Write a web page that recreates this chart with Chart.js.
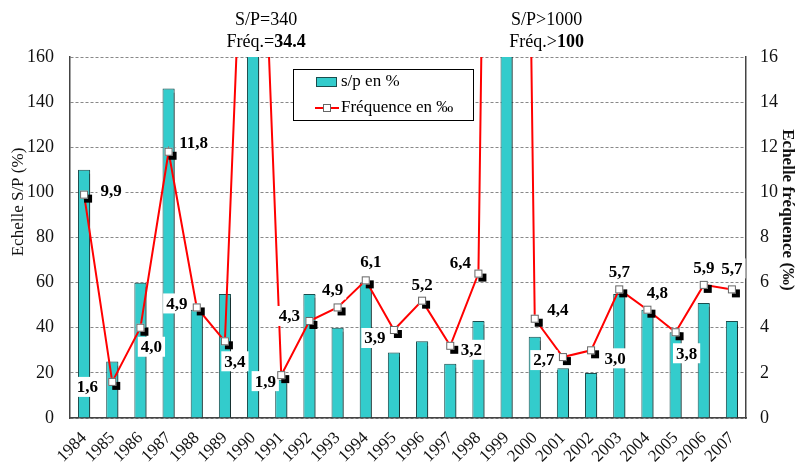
<!DOCTYPE html>
<html>
<head>
<meta charset="utf-8">
<script src="https://cdn.jsdelivr.net/npm/chart.js@4"></script>
<style>
  html, body { margin: 0; padding: 0; background: #fff; }
</style>
</head>
<body>
<canvas id="chart-sp" width="795" height="470"></canvas>
<script>
// données
const years = ['1984','1985','1986','1987','1988','1989','1990','1991','1992','1993','1994','1995',
  '1996','1997','1998','1999','2000','2001','2002','2003','2004','2005','2006','2007'];
const spValues = [110,25,60,146,48,55,340,17,55,40,60,29,34,24,43,1000,36,22,20,55,48,38,51,43];
const freqValues = [9.9,1.6,4.0,11.8,4.9,3.4,34.4,1.9,4.3,4.9,6.1,3.9,5.2,3.2,6.4,100,4.4,2.7,3.0,5.7,4.8,3.8,5.9,5.7];
const spTicks = [0,20,40,60,80,100,120,140,160];
const freqTicks = [0,2,4,6,8,10,12,14,16];

// placement des étiquettes (dx, dy en px par rapport au point)
const labelOffsets = [[27,-4],[-25,5],[11,19],[25,-9],[-20,-4],[10,20],null,[-16,6],[-20,-5],[-5,-18],[5,-19],[-19,8],
  [0,-16],[21,4],[-18,-11],null,[23,-9],[-19,3],[24,8],[0,-18],[10,-17],[11,21],[0,-17],[0,-21]];

const serif = 'Liberation Serif, Times New Roman, serif';
const teal = '#33CCCC';

const extraPlugin = {
  id: 'extras',
  beforeDatasetDraw(chart, args) {
    if (args.index === 1) {
      const ctx = chart.ctx;
      ctx.save();
      ctx.shadowColor = 'rgba(0,0,0,0.45)';
      ctx.shadowOffsetX = 2;
      ctx.shadowOffsetY = 1;
      ctx.shadowBlur = 1;
    }
  },
  afterDatasetDraw(chart, args) {
    if (args.index === 1) chart.ctx.restore();
  },
  afterDatasetsDraw(chart) {
    const ctx = chart.ctx;
    const area = chart.chartArea;
    const pts = chart.getDatasetMeta(0).data;
    // étiquettes
    ctx.save();
    ctx.font = 'bold 17px ' + serif;
    ctx.textAlign = 'center';
    ctx.textBaseline = 'middle';
    pts.forEach((p, i) => {
      const off = labelOffsets[i];
      if (!off || p.y < area.top) return;
      const txt = freqValues[i].toFixed(1).replace('.', ',');
      const w = ctx.measureText(txt).width;
      const cx = p.x + off[0], cy = p.y + off[1];
      ctx.fillStyle = '#fff';
      ctx.fillRect(cx - w / 2 - 3, cy - 10, w + 6, 20);
      ctx.fillStyle = '#000';
      ctx.fillText(txt, cx, cy + 1);
    });
    // marqueurs
    pts.forEach(p => {
      if (p.y < area.top) return;
      ctx.fillStyle = '#000';
      ctx.fillRect(p.x, p.y, 8, 8);
      ctx.fillStyle = '#fff';
      ctx.strokeStyle = '#666';
      ctx.lineWidth = 1;
      ctx.fillRect(p.x - 4, p.y - 4, 8, 8);
      ctx.strokeRect(p.x - 4 + 0.5, p.y - 4 + 0.5, 7, 7);
    });
    ctx.restore();
  },
  afterDraw(chart) {
    const ctx = chart.ctx;
    const x = chart.scales.x;
    ctx.save();
    ctx.fillStyle = '#000';
    ctx.textBaseline = 'middle';
    // notes en haut
    const notes = [
      {i: 6, dx: 13, top: 'S/P=340', pre: 'Fréq.=', bold: '34.4'},
      {i: 15, dx: 40, top: 'S/P>1000', pre: 'Fréq.>', bold: '100'}
    ];
    notes.forEach(n => {
      const cx = x.getPixelForValue(n.i) + n.dx;
      ctx.font = '18px ' + serif;
      ctx.textAlign = 'center';
      ctx.fillText(n.top, cx, 20);
      const w1 = ctx.measureText(n.pre).width;
      ctx.font = 'bold 18px ' + serif;
      const w2 = ctx.measureText(n.bold).width;
      const sx = cx - (w1 + w2) / 2;
      ctx.textAlign = 'left';
      ctx.font = '18px ' + serif;
      ctx.fillText(n.pre, sx, 42);
      ctx.font = 'bold 18px ' + serif;
      ctx.fillText(n.bold, sx + w1, 42);
    });
    // titres des axes
    ctx.fillStyle = '#111';
    ctx.textAlign = 'center';
    ctx.save();
    ctx.translate(19, 202);
    ctx.rotate(-Math.PI / 2);
    ctx.font = '17px ' + serif;
    ctx.fillText('Echelle S/P (%)', 0, 0);
    ctx.restore();
    ctx.save();
    ctx.translate(787, 210);
    ctx.rotate(Math.PI / 2);
    ctx.font = 'bold 17px ' + serif;
    ctx.fillText('Echelle fréquence (‰)', 0, 0);
    ctx.restore();
    // légende
    ctx.fillStyle = '#fff';
    ctx.fillRect(293, 69, 180, 51);
    ctx.strokeStyle = '#000';
    ctx.lineWidth = 1;
    ctx.strokeRect(293.5, 69.5, 180, 51);
    ctx.fillStyle = teal;
    ctx.fillRect(316, 77, 20, 9);
    ctx.strokeStyle = '#1a4d4d';
    ctx.strokeRect(316.5, 77.5, 20, 9);
    ctx.strokeStyle = 'red';
    ctx.lineWidth = 2;
    ctx.beginPath();
    ctx.moveTo(315, 108);
    ctx.lineTo(339, 108);
    ctx.stroke();
    ctx.fillStyle = '#fff';
    ctx.strokeStyle = '#666';
    ctx.lineWidth = 1;
    ctx.fillRect(323, 104, 8, 8);
    ctx.strokeRect(323.5, 104.5, 7, 7);
    ctx.fillStyle = '#000';
    ctx.font = '17px ' + serif;
    ctx.textAlign = 'left';
    ctx.fillText('s/p en %', 341, 82);
    ctx.fillText('Fréquence en ‰', 341, 108);
    ctx.restore();
  }
};

const data_sp = {
  labels: years,
  datasets: [{
    type: 'line',
    label: 'Fréquence en ‰',
    data: freqValues,
    yAxisID: 'y1',
    borderColor: 'red',
    borderWidth: 2,
    pointRadius: 0,
    tension: 0,
    order: 0
  }, {
    type: 'bar',
    label: 's/p en %',
    data: spValues,
    yAxisID: 'y',
    backgroundColor: teal,
    borderColor: '#1a4d4d',
    borderWidth: 1,
    barPercentage: 0.43,
    categoryPercentage: 1,
    order: 1
  }]
};

const config_sp = {
  type: 'bar',
  data: data_sp,
  options: {
    responsive: false,
    devicePixelRatio: 1,
    animation: false,
    layout: {padding: {top: 57, left: 0, right: 0, bottom: 0}},
    plugins: {legend: {display: false}, tooltip: {enabled: false}},
    scales: {
      x: {
        offset: true,
        grid: {display: false},
        border: {color: '#444', width: 1.5},
        ticks: {font: {family: serif, size: 17}, color: '#111', minRotation: 45, maxRotation: 45, autoSkip: false, padding: 2},
        afterFit: s => { s.height = 52; }
      },
      y: {
        position: 'left',
        min: 0,
        max: 160,
        afterBuildTicks: s => { s.ticks = spTicks.map(v => ({value: v})); },
        grid: {color: '#888', drawTicks: false, lineWidth: 1},
        border: {color: '#444', width: 1.5, dash: [3, 2]},
        ticks: {font: {family: serif, size: 18}, color: '#111', padding: 16},
        afterFit: s => { s.width = 70; }
      },
      y1: {
        position: 'right',
        min: 0,
        max: 16,
        afterBuildTicks: s => { s.ticks = freqTicks.map(v => ({value: v})); },
        grid: {display: false},
        border: {color: '#444', width: 1.5},
        ticks: {font: {family: serif, size: 18}, color: '#111', padding: 6},
        afterFit: s => { s.width = 49; }
      }
    }
  },
  plugins: [extraPlugin]
};

const myChart_sp = new Chart(document.getElementById('chart-sp'), config_sp);
</script>
</body>
</html>
